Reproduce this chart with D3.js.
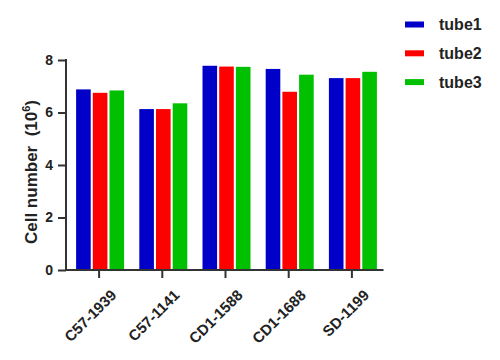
<!DOCTYPE html>
<html><head><meta charset="utf-8">
<script src="https://cdn.jsdelivr.net/npm/d3@7"></script>
<style>body{margin:0;background:#fff}svg{display:block}</style>
</head><body>
<svg id="c" width="500" height="360"></svg>
<script>
const categories = ["C57-1939","C57-1141","CD1-1588","CD1-1688","SD-1199"];
const seriesNames = ["tube1","tube2","tube3"];
const tube1 = [6.88, 6.13, 7.78, 7.66, 7.31];
const tube2 = [6.75, 6.13, 7.75, 6.79, 7.31];
const tube3 = [6.84, 6.35, 7.74, 7.44, 7.55];
const colors = ["#0000C8", "#FF0000", "#00C000"];
const yTicks = [0, 2, 4, 6, 8];

const series = [tube1, tube2, tube3];
const svg = d3.select("#c");
const font = "'Liberation Sans', Arial, sans-serif";

const x = d3.scaleBand().domain(categories).range([67.5, 383.5]).paddingInner(0).paddingOuter(0);
const xi = d3.scaleBand().domain(seriesNames).range([0, 48]).paddingInner(0.125);
const y = d3.scaleLinear().domain([0, 8]).range([270, 60]);

// bars
categories.forEach((c, ci) => {
  const g = svg.append("g").attr("transform", `translate(${x(c) + x.bandwidth()/2 - 23},0)`);
  seriesNames.forEach((s, si) => {
    g.append("rect")
      .attr("x", xi(s)).attr("width", xi.bandwidth())
      .attr("y", y(series[si][ci])).attr("height", y(0) - y(series[si][ci]))
      .attr("fill", colors[si]);
  });
});

// y axis
const yAxis = svg.append("g").attr("transform", "translate(66,0)")
  .call(d3.axisLeft(y).tickValues(yTicks).tickSize(8).tickPadding(5).tickFormat(d3.format("d")));
yAxis.select(".domain").attr("stroke", "#333").attr("stroke-width", 2).attr("d", "M0,271V59");
yAxis.selectAll(".tick line").attr("stroke", "#333").attr("stroke-width", 2);
yAxis.selectAll("text").attr("font-family", font).attr("font-weight", "bold").attr("font-size", 14).attr("fill", "#222");

// x axis
const xAxis = svg.append("g").attr("transform", "translate(0,270)")
  .call(d3.axisBottom(x).tickSize(8).tickPadding(4));
xAxis.select(".domain").attr("stroke", "#333").attr("stroke-width", 2).attr("d", "M65,0H383.5");
xAxis.selectAll(".tick line").attr("stroke", "#333").attr("stroke-width", 2);
xAxis.selectAll("text").attr("font-family", font).attr("font-weight", "bold").attr("font-size", 15).attr("fill", "#222")
  .attr("text-anchor", "end").attr("dy", "0.35em")
  .attr("transform", "translate(6,14) rotate(-45)");

// y title
const yt = svg.append("text").attr("transform", "translate(37,172) rotate(-90)")
  .attr("text-anchor", "middle").attr("font-family", font).attr("font-weight", "bold").attr("font-size", 17).attr("fill", "#222");
yt.append("tspan").text("Cell number\u00A0\u00A0(10");
yt.append("tspan").attr("dy", -7).attr("font-size", 11).text("6");
yt.append("tspan").attr("dy", 7).text(")");

// legend
const leg = svg.append("g");
seriesNames.forEach((s, i) => {
  const cy = 24.5 + i * 28.8;
  leg.append("rect").attr("x", 405).attr("y", cy - 3).attr("width", 19).attr("height", 6).attr("fill", colors[i]);
  leg.append("text").attr("x", 439).attr("y", cy).attr("dy", "0.35em")
    .attr("font-family", font).attr("font-weight", "bold").attr("font-size", 16).attr("fill", "#222").text(s);
});
</script>
</body></html>
